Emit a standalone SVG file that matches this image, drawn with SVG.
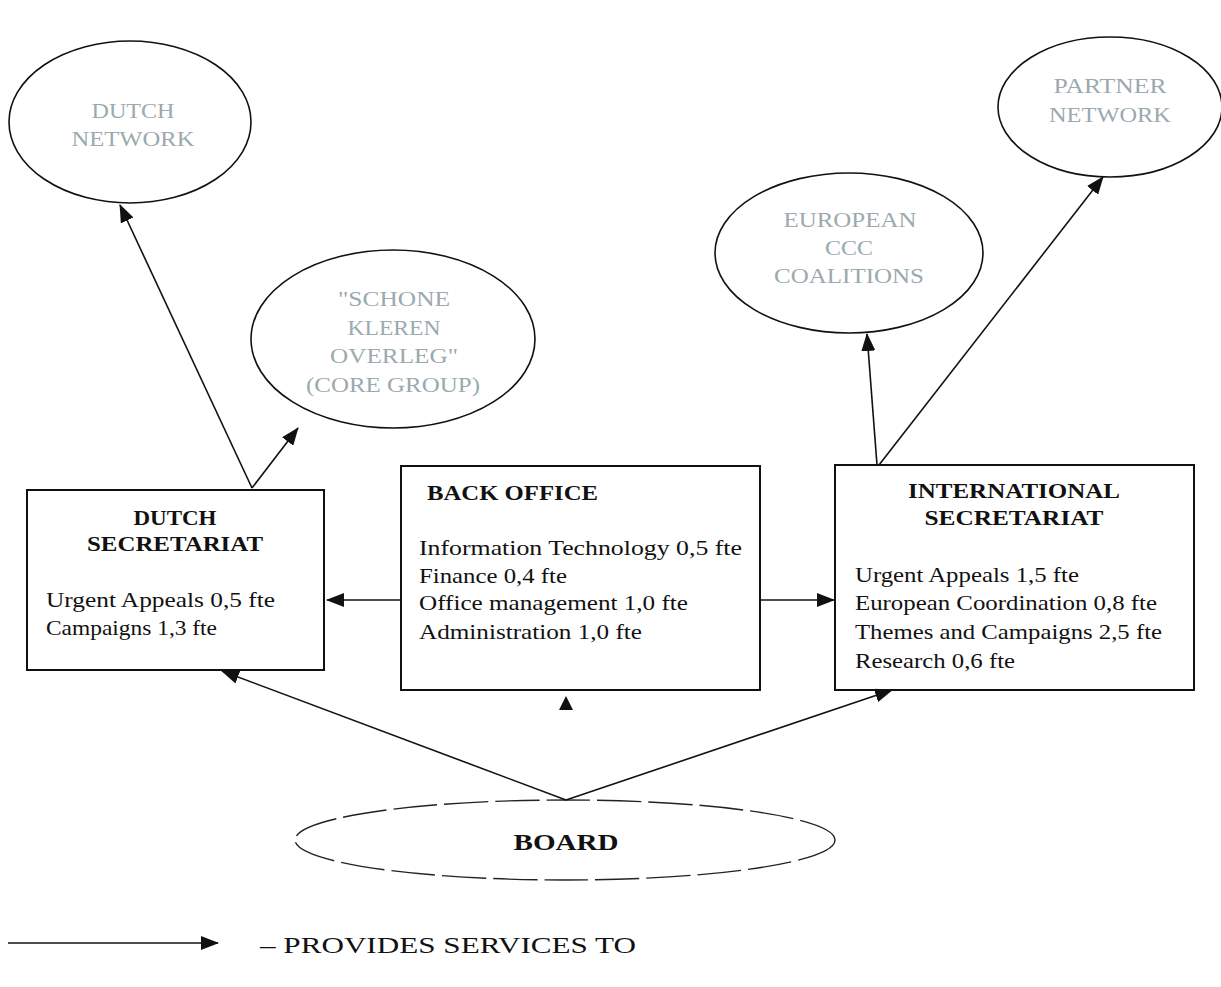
<svg xmlns="http://www.w3.org/2000/svg" width="1221" height="987" viewBox="0 0 1221 987">
<style>
.node{fill:none;stroke:#111;stroke-width:1.6}
.box{fill:#fff;stroke:#111;stroke-width:2}
.et{font-family:"Liberation Serif",serif;font-size:21px;fill:#9aaaae;text-anchor:middle}
.tt{font-family:"Liberation Serif",serif;font-size:21px;font-weight:bold;fill:#111;text-anchor:middle}
.bt{font-family:"Liberation Serif",serif;font-size:21px;fill:#111}
.conn line{stroke:#111;stroke-width:1.6;marker-end:url(#ah)}
</style>
<defs>
<marker id="ah" markerUnits="userSpaceOnUse" markerWidth="18" markerHeight="14" refX="17" refY="7" orient="auto">
<path d="M0,0 L18,7 L0,14 z" fill="#111"/>
</marker>
</defs>
<rect width="1221" height="987" fill="#fff"/>
<g id="dutch-network">
<ellipse class="node" cx="130" cy="122" rx="121" ry="81"/>
<text class="et" x="133" y="118" textLength="83" lengthAdjust="spacingAndGlyphs">DUTCH</text>
<text class="et" x="133" y="146" textLength="123" lengthAdjust="spacingAndGlyphs">NETWORK</text>
</g>
<g id="schone-kleren">
<ellipse class="node" cx="393" cy="339" rx="142" ry="89"/>
<text class="et" x="394" y="306" textLength="112" lengthAdjust="spacingAndGlyphs">"SCHONE</text>
<text class="et" x="394" y="335" textLength="93" lengthAdjust="spacingAndGlyphs">KLEREN</text>
<text class="et" x="394" y="363" textLength="128" lengthAdjust="spacingAndGlyphs">OVERLEG"</text>
<text class="et" x="393" y="392" textLength="174" lengthAdjust="spacingAndGlyphs">(CORE GROUP)</text>
</g>
<g id="european-ccc">
<ellipse class="node" cx="849" cy="253" rx="134" ry="80"/>
<text class="et" x="850" y="227" textLength="133" lengthAdjust="spacingAndGlyphs">EUROPEAN</text>
<text class="et" x="849" y="255" textLength="48" lengthAdjust="spacingAndGlyphs">CCC</text>
<text class="et" x="849" y="283" textLength="150" lengthAdjust="spacingAndGlyphs">COALITIONS</text>
</g>
<g id="partner-network">
<ellipse class="node" cx="1110" cy="107" rx="112" ry="70"/>
<text class="et" x="1110" y="93" textLength="113" lengthAdjust="spacingAndGlyphs">PARTNER</text>
<text class="et" x="1110" y="122" textLength="122" lengthAdjust="spacingAndGlyphs">NETWORK</text>
</g>
<g id="dutch-secretariat">
<rect class="box" x="27" y="490" width="297" height="180"/>
<text class="tt" x="175" y="525" textLength="83" lengthAdjust="spacingAndGlyphs">DUTCH</text>
<text class="tt" x="175" y="551" textLength="176" lengthAdjust="spacingAndGlyphs">SECRETARIAT</text>
<text class="bt" x="46" y="607" textLength="229" lengthAdjust="spacingAndGlyphs">Urgent Appeals 0,5 fte</text>
<text class="bt" x="46" y="635" textLength="171" lengthAdjust="spacingAndGlyphs">Campaigns 1,3 fte</text>
</g>
<g id="back-office">
<rect class="box" x="401" y="466" width="359" height="224"/>
<text class="tt" x="427" y="500" style="text-anchor:start" textLength="171" lengthAdjust="spacingAndGlyphs">BACK OFFICE</text>
<text class="bt" x="419" y="555" textLength="323" lengthAdjust="spacingAndGlyphs">Information Technology  0,5 fte</text>
<text class="bt" x="419" y="583" textLength="148" lengthAdjust="spacingAndGlyphs">Finance 0,4 fte</text>
<text class="bt" x="419" y="610" textLength="269" lengthAdjust="spacingAndGlyphs">Office management 1,0 fte</text>
<text class="bt" x="419" y="639" textLength="223" lengthAdjust="spacingAndGlyphs">Administration 1,0 fte</text>
</g>
<g id="international-secretariat">
<rect class="box" x="835" y="465" width="359" height="225"/>
<text class="tt" x="1014" y="498" textLength="212" lengthAdjust="spacingAndGlyphs">INTERNATIONAL</text>
<text class="tt" x="1014" y="525" textLength="179" lengthAdjust="spacingAndGlyphs">SECRETARIAT</text>
<text class="bt" x="855" y="582" textLength="224" lengthAdjust="spacingAndGlyphs">Urgent Appeals 1,5 fte</text>
<text class="bt" x="855" y="610" textLength="302" lengthAdjust="spacingAndGlyphs">European Coordination 0,8 fte</text>
<text class="bt" x="855" y="639" textLength="307" lengthAdjust="spacingAndGlyphs">Themes and Campaigns 2,5 fte</text>
<text class="bt" x="855" y="668" textLength="160" lengthAdjust="spacingAndGlyphs">Research 0,6 fte</text>
</g>
<g id="board">
<ellipse cx="565" cy="840" rx="270" ry="40" fill="none" stroke="#222" stroke-width="1.4" stroke-dasharray="44 7"/>
<text class="tt" x="566" y="850" style="font-size:24px" textLength="105" lengthAdjust="spacingAndGlyphs">BOARD</text>
</g>
<g id="connectors" class="conn">
<line x1="252" y1="488" x2="120" y2="205"/>
<line x1="252" y1="488" x2="298" y2="428"/>
<line x1="401" y1="600" x2="327" y2="600"/>
<line x1="760" y1="600" x2="834" y2="600"/>
<line x1="877" y1="465" x2="867" y2="334"/>
<line x1="879" y1="465" x2="1103" y2="177"/>
<line x1="566" y1="800" x2="222" y2="671"/>
<line x1="566" y1="800" x2="892" y2="690"/>
<path d="M566,696 L573,710 L559,710 z" fill="#111"/>
</g>
<g id="legend">
<line x1="8" y1="943" x2="218" y2="943" stroke="#111" stroke-width="1.6" marker-end="url(#ah)"/>
<text class="bt" x="260" y="953" style="font-size:23px" textLength="376" lengthAdjust="spacingAndGlyphs">– PROVIDES SERVICES TO</text>
</g>
</svg>
